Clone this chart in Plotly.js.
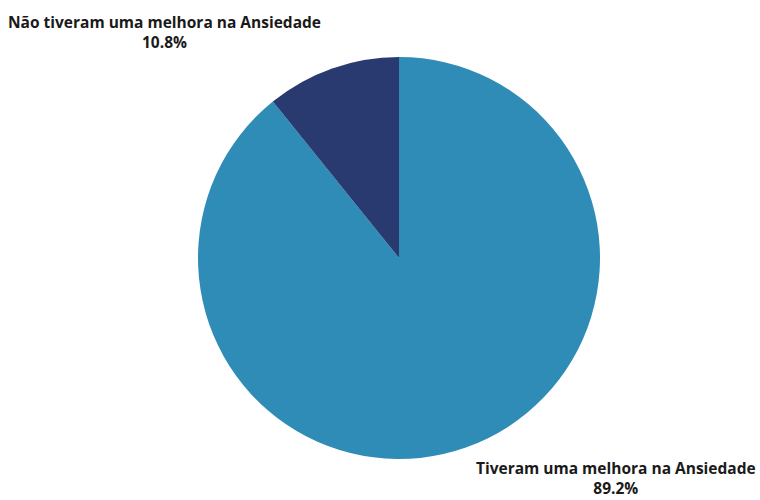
<!DOCTYPE html>
<html><head><meta charset="utf-8">
<script src="https://cdn.plot.ly/plotly-3.0.1.min.js"></script>
<style>html,body{margin:0;padding:0;background:#fff}</style>
</head><body><div id="chart" style="width:760px;height:500px"></div>
<script>
const labels = ["Tiveram uma melhora na Ansiedade", "Não tiveram uma melhora na Ansiedade"];
const values = [89.2, 10.8];
const colors = ["#2f8cb7", "#293a71"];

const W = 760, H = 500;
// label placement (pixels): [center x, center y] of each two-line label
const labelPos = [[616, 478], [164, 32]];
const total = values.reduce((a, b) => a + b, 0);
const font = {family: "Open Sans", size: 15.5, color: "#1a1a1a"};
const annotations = labels.map((lab, i) => ({
  text: "<b>" + lab + "</b><br><b>" + (values[i] / total * 100).toFixed(1) + "%</b>",
  x: labelPos[i][0] / W, y: 1 - labelPos[i][1] / H, xref: "paper", yref: "paper",
  xanchor: "center", yanchor: "middle", align: "center", showarrow: false, font: font
}));

Plotly.newPlot("chart", [{
  type: "pie",
  labels: labels,
  values: values,
  sort: false,
  direction: "clockwise",
  rotation: 0,
  marker: {colors: colors, line: {width: 0}},
  textinfo: "none",
  domain: {x: [198 / W, 600 / W], y: [1 - 459 / H, 1 - 57 / H]},
  showlegend: false,
  hoverinfo: "none"
}], {
  width: W, height: H,
  margin: {l: 0, r: 0, t: 0, b: 0},
  paper_bgcolor: "#fff",
  showlegend: false,
  annotations: annotations
}, {displayModeBar: false});
</script></body></html>
